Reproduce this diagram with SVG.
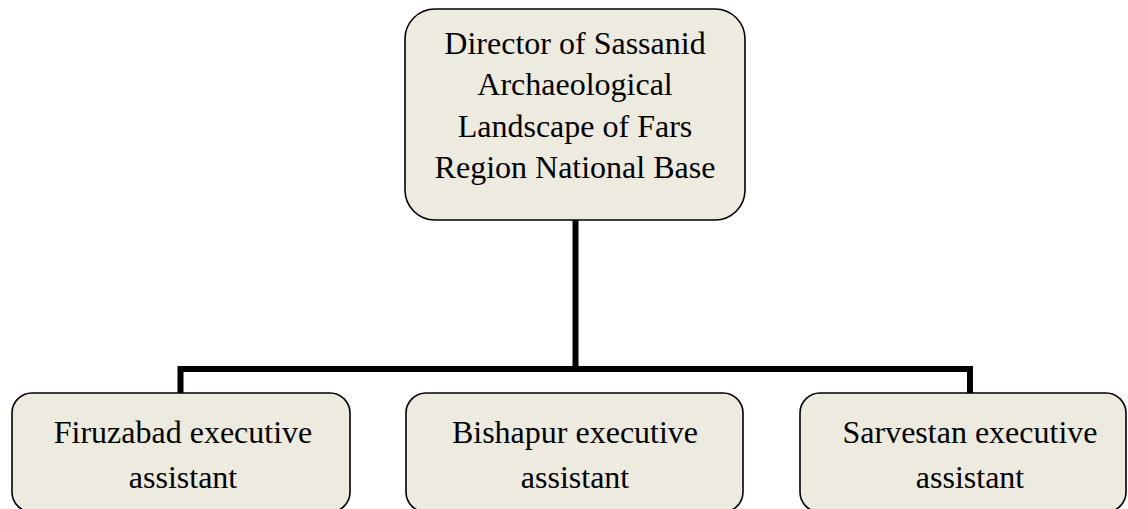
<svg xmlns="http://www.w3.org/2000/svg" width="1128" height="509" viewBox="0 0 1128 509">
<style>
.box{fill:#EDEAE0;stroke:#000;stroke-width:1.6}
.t{font-family:"Liberation Serif","Times New Roman",serif;font-size:32px;fill:#000;text-anchor:middle}
.c{fill:none;stroke:#000;stroke-width:6;stroke-linecap:butt;stroke-linejoin:miter}
</style>
<rect width="1128" height="509" fill="#fff"/>
<g id="connectors">
<path class="c" d="M575.5,220 V369 M180.5,393 V369 H970 V393"/>
</g>
<g id="director">
<rect class="box" x="405" y="9" width="340" height="211" rx="30" ry="30"/>
<text class="t" x="575" y="54">Director of Sassanid</text>
<text class="t" x="575" y="95">Archaeological</text>
<text class="t" x="575" y="137">Landscape of Fars</text>
<text class="t" x="575" y="178">Region National Base</text>
</g>
<g id="firuzabad">
<rect class="box" x="12" y="393" width="338" height="119" rx="20" ry="20"/>
<text class="t" x="183" y="443">Firuzabad executive</text>
<text class="t" x="183" y="488">assistant</text>
</g>
<g id="bishapur">
<rect class="box" x="406" y="393" width="337" height="119" rx="20" ry="20"/>
<text class="t" x="575" y="443">Bishapur executive</text>
<text class="t" x="575" y="488">assistant</text>
</g>
<g id="sarvestan">
<rect class="box" x="800" y="393" width="326" height="119" rx="20" ry="20"/>
<text class="t" x="970" y="443">Sarvestan executive</text>
<text class="t" x="970" y="488">assistant</text>
</g>
</svg>
